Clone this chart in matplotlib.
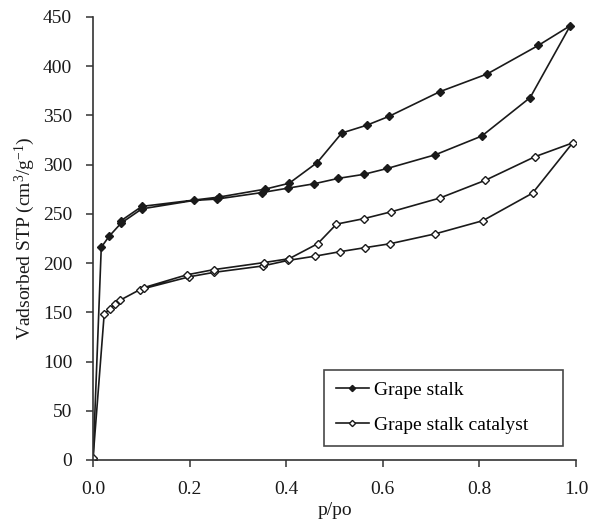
import matplotlib
matplotlib.use("Agg")
import matplotlib.pyplot as plt

plt.rcParams['font.family'] = ['Liberation Serif', 'DejaVu Serif']
plt.rcParams['mathtext.fontset'] = 'custom'
plt.rcParams['mathtext.rm'] = 'Liberation Serif'
plt.rcParams['mathtext.it'] = 'Liberation Serif:italic'

# grape stalk: adsorption branch then desorption back down
stalk_p = [0.0, 0.017, 0.033, 0.058, 0.101, 0.208, 0.257, 0.349, 0.403, 0.458,
           0.508, 0.560, 0.609, 0.709, 0.805, 0.905, 0.988,
           0.922, 0.816, 0.718, 0.613, 0.567, 0.515, 0.464, 0.406, 0.356,
           0.261, 0.101, 0.058]
stalk_v = [0, 216, 227, 240.5, 255, 263.5, 265, 271.5, 276, 280.5,
           286, 290, 296, 310, 329, 368, 441,
           421, 392, 374, 349, 340, 332, 302, 281, 275,
           267, 257.5, 243]

# grape stalk catalyst
cat_p = [0.0, 0.023, 0.035, 0.046, 0.055, 0.097, 0.199, 0.25, 0.351, 0.404,
         0.46, 0.511, 0.563, 0.615, 0.709, 0.807, 0.910, 0.993,
         0.915, 0.812, 0.718, 0.617, 0.560, 0.504, 0.465, 0.406, 0.353,
         0.25, 0.194, 0.105]
cat_v = [2, 148, 153.5, 158.5, 162, 173, 186, 190.5, 197, 202.7,
         207, 211.5, 215.6, 219.6, 229.7, 243, 271, 322,
         308, 284, 266, 252, 245, 239.5, 219.6, 204.4, 200.4,
         193.3, 188, 175]

fig = plt.figure(figsize=(5.89, 5.26), dpi=100)
ax = fig.add_axes([0.158, 0.1255, 0.82, 0.8425])

ax.plot(stalk_p, stalk_v, color='#1a1a1a', lw=1.2, marker='D', ms=4.5,
        mfc='#1a1a1a', mec='#1a1a1a', label='Grape stalk')
ax.plot(cat_p, cat_v, color='#1a1a1a', lw=1.2, marker='D', ms=4.5,
        mfc='white', mec='#1a1a1a', mew=1.0, label='Grape stalk catalyst')

ax.set_xlim(0, 1.0)
ax.set_ylim(0, 450)
ax.set_xticks([0.0, 0.2, 0.4, 0.6, 0.8, 1.0])
ax.set_xticklabels(['0.0', '0.2', '0.4', '0.6', '0.8', '1.0'])
ax.set_yticks(range(0, 451, 50))

for s in ['top', 'right']:
    ax.spines[s].set_visible(False)
for s in ['left', 'bottom']:
    ax.spines[s].set_linewidth(1.2)
    ax.spines[s].set_color('#333333')
ax.tick_params(direction='out', length=5, width=1.1, color='#333333',
               labelsize=14, labelcolor='#1a1a1a', pad=10)

ax.set_xlabel('p/po', fontsize=14, color='#1a1a1a', labelpad=3)
ax.set_ylabel('Vadsorbed STP (cm$^{3}$/g$^{-1}$)', fontsize=14,
              color='#1a1a1a', labelpad=4)

leg = ax.legend(loc='lower left', bbox_to_anchor=(0.478, 0.032, 0.494, 0.17),
                mode='expand', fontsize=14, frameon=True, fancybox=False,
                borderaxespad=0, handlelength=1.7, handletextpad=0.3,
                borderpad=0.6, labelspacing=0.9, markerscale=0.7)
leg.get_frame().set_edgecolor('#1a1a1a')
leg.get_frame().set_linewidth(1.2)

fig.savefig('out.png', dpi=100)
